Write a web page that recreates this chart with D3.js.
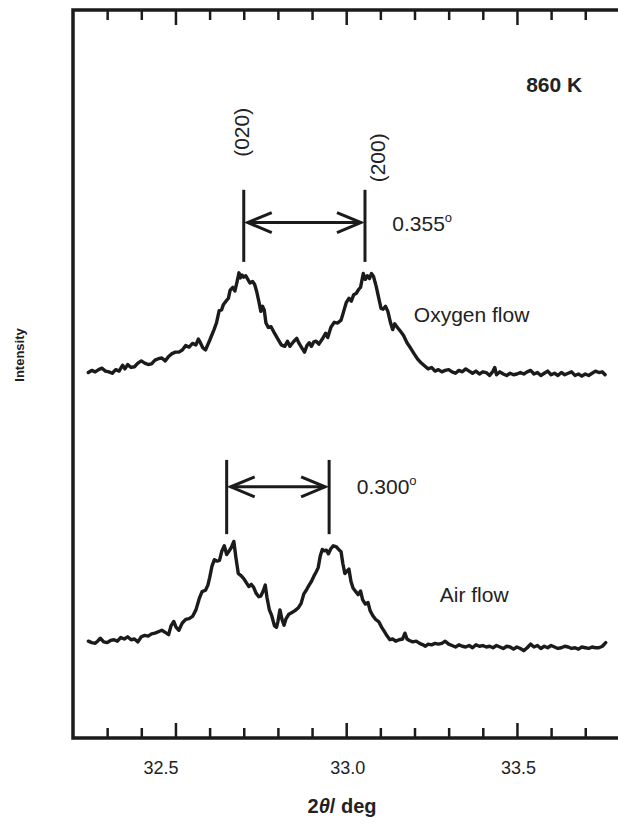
<!DOCTYPE html>
<html>
<head>
<meta charset="utf-8">
<script src="https://cdn.jsdelivr.net/npm/d3@7"></script>
<style>
  body { margin: 0; background: #fff; }
  svg { display: block; font-family: "Liberation Sans", Arial, Helvetica, sans-serif; }
</style>
</head>
<body>
<div id="chart"></div>
<script>
// XRD scans near 33 deg (2theta), intensity in arbitrary units (offset traces)

// x axis ticks
var majorTicks = [32.5, 33.0, 33.5];
var minorTicks = [32.3, 32.4, 32.6, 32.7, 32.8, 32.9, 33.1, 33.2, 33.3, 33.4, 33.6, 33.7];

// [2theta, intensity]
var oxygenFlow = [
  [32.245, 50.2], [32.255, 50.5], [32.265, 50.3], [32.275, 50.6], [32.285, 50.8], [32.295, 50.4],
  [32.305, 50.3], [32.315, 50.1], [32.325, 50.6], [32.335, 50.4], [32.345, 51.2], [32.352, 50.7],
  [32.36, 51.3], [32.37, 50.9], [32.38, 51.0], [32.39, 51.5], [32.40, 51.8], [32.41, 51.5],
  [32.42, 51.3], [32.43, 51.4], [32.44, 51.9], [32.45, 52.1], [32.46, 52.2], [32.47, 51.8],
  [32.48, 52.4], [32.49, 52.8], [32.50, 53.0], [32.51, 53.0], [32.52, 53.3], [32.53, 53.9],
  [32.54, 53.7], [32.55, 54.2], [32.56, 54.0], [32.567, 54.8], [32.573, 54.3], [32.58, 53.6],
  [32.588, 53.3], [32.60, 54.6], [32.613, 56.1], [32.62, 57.0], [32.628, 58.7], [32.635, 58.8],
  [32.64, 59.5], [32.648, 60.0], [32.655, 60.4], [32.66, 61.5], [32.668, 61.9], [32.674, 61.4],
  [32.68, 62.6], [32.686, 63.9], [32.69, 63.2], [32.695, 63.6], [32.70, 63.3], [32.706, 63.5],
  [32.712, 63.0], [32.718, 62.5], [32.726, 62.7], [32.732, 62.3], [32.738, 61.3], [32.744, 60.0],
  [32.75, 58.6], [32.755, 59.3], [32.76, 58.8], [32.765, 57.0], [32.772, 56.4], [32.78, 56.5],
  [32.79, 55.6], [32.80, 54.8], [32.81, 54.0], [32.82, 53.8], [32.828, 54.5], [32.835, 53.8],
  [32.845, 54.4], [32.855, 54.9], [32.862, 54.2], [32.87, 53.6], [32.878, 53.0], [32.885, 53.9],
  [32.892, 54.3], [32.898, 53.8], [32.905, 54.4], [32.912, 54.5], [32.92, 54.1], [32.93, 54.8],
  [32.94, 55.6], [32.946, 55.0], [32.955, 56.4], [32.965, 57.1], [32.975, 57.0], [32.985, 57.4],
  [32.992, 58.5], [33.0, 59.8], [33.008, 60.4], [33.015, 60.0], [33.022, 60.9], [33.03, 61.1],
  [33.036, 61.6], [33.042, 61.9], [33.05, 63.8], [33.056, 63.0], [33.062, 63.5], [33.068, 63.1],
  [33.074, 63.8], [33.08, 63.4], [33.088, 62.0], [33.095, 60.5], [33.102, 59.0], [33.108, 58.9],
  [33.115, 59.3], [33.122, 58.6], [33.13, 57.0], [33.136, 56.1], [33.142, 56.9], [33.15, 56.4],
  [33.16, 55.8], [33.168, 55.3], [33.178, 54.3], [33.188, 53.6], [33.2, 52.7], [33.21, 52.0],
  [33.22, 51.5], [33.23, 51.1], [33.24, 50.7], [33.25, 50.9], [33.26, 50.4], [33.27, 50.6],
  [33.28, 50.3], [33.29, 50.5], [33.30, 50.6], [33.31, 50.3], [33.32, 50.1], [33.33, 50.5],
  [33.34, 50.3], [33.35, 50.7], [33.36, 50.4], [33.37, 50.1], [33.38, 50.4], [33.39, 50.0],
  [33.40, 50.3], [33.41, 50.2], [33.42, 49.8], [33.43, 50.4], [33.435, 50.9], [33.44, 49.9],
  [33.45, 50.3], [33.46, 50.0], [33.47, 49.8], [33.48, 50.1], [33.49, 49.9], [33.50, 50.0],
  [33.51, 50.2], [33.52, 50.0], [33.53, 50.3], [33.54, 50.5], [33.55, 50.0], [33.56, 50.2],
  [33.57, 49.8], [33.58, 50.1], [33.59, 50.4], [33.60, 49.9], [33.61, 50.1], [33.62, 49.8],
  [33.63, 50.2], [33.64, 49.9], [33.65, 50.1], [33.66, 50.3], [33.67, 49.8], [33.68, 50.0],
  [33.69, 49.7], [33.70, 50.0], [33.71, 49.8], [33.72, 50.1], [33.73, 50.4], [33.74, 50.2],
  [33.75, 50.3], [33.758, 49.9]
];

var airFlow = [
  [32.245, 13.3], [32.255, 13.1], [32.265, 13.0], [32.272, 13.3], [32.28, 13.7], [32.29, 13.2],
  [32.30, 13.1], [32.31, 13.4], [32.32, 13.5], [32.33, 13.3], [32.34, 13.8], [32.35, 13.6],
  [32.36, 13.9], [32.37, 13.5], [32.38, 13.6], [32.39, 13.2], [32.40, 13.9], [32.41, 14.1],
  [32.42, 14.0], [32.43, 14.3], [32.44, 14.4], [32.45, 14.6], [32.46, 14.8], [32.47, 14.5],
  [32.48, 14.2], [32.487, 15.4], [32.495, 16.0], [32.502, 15.2], [32.51, 14.8], [32.52, 15.8],
  [32.53, 16.3], [32.54, 16.4], [32.55, 16.7], [32.56, 17.6], [32.57, 19.2], [32.578, 20.1],
  [32.588, 20.3], [32.595, 21.0], [32.60, 22.0], [32.607, 23.6], [32.614, 24.5], [32.622, 24.3],
  [32.629, 24.4], [32.636, 25.7], [32.643, 26.4], [32.65, 25.2], [32.656, 25.6], [32.664, 26.2],
  [32.671, 27.0], [32.677, 24.8], [32.684, 22.6], [32.692, 22.3], [32.70, 21.9], [32.708, 21.3],
  [32.715, 20.8], [32.722, 21.1], [32.729, 20.7], [32.736, 19.9], [32.744, 19.4], [32.75, 19.5],
  [32.757, 20.2], [32.763, 21.0], [32.768, 19.3], [32.775, 17.6], [32.782, 16.8], [32.79, 15.4],
  [32.796, 15.2], [32.80, 16.0], [32.806, 17.6], [32.812, 16.3], [32.818, 15.5], [32.824, 16.4],
  [32.832, 17.0], [32.84, 17.2], [32.85, 17.5], [32.86, 17.9], [32.868, 18.5], [32.876, 19.8],
  [32.883, 20.3], [32.89, 20.9], [32.898, 21.5], [32.906, 22.3], [32.912, 22.8], [32.918, 23.4],
  [32.924, 25.0], [32.93, 25.9], [32.936, 25.7], [32.942, 25.8], [32.948, 25.3], [32.955, 26.0],
  [32.962, 26.4], [32.97, 26.3], [32.978, 25.9], [32.985, 25.6], [32.99, 24.0], [32.996, 22.6],
  [33.002, 22.9], [33.008, 23.2], [33.014, 21.5], [33.02, 20.6], [33.028, 20.1], [33.035, 19.7],
  [33.042, 20.2], [33.048, 19.0], [33.056, 18.4], [33.064, 18.6], [33.07, 17.5], [33.078, 16.8],
  [33.086, 16.3], [33.095, 16.0], [33.104, 15.2], [33.112, 14.6], [33.12, 14.0], [33.128, 13.5],
  [33.136, 13.6], [33.145, 13.3], [33.155, 13.5], [33.165, 13.6], [33.172, 14.4], [33.178, 13.6],
  [33.185, 13.4], [33.195, 13.2], [33.205, 13.3], [33.215, 13.0], [33.225, 12.8], [33.232, 12.6],
  [33.24, 12.9], [33.25, 12.8], [33.26, 13.0], [33.27, 12.9], [33.28, 13.0], [33.29, 13.3],
  [33.30, 12.9], [33.31, 12.7], [33.32, 12.5], [33.33, 12.8], [33.34, 12.6], [33.35, 12.5],
  [33.36, 12.7], [33.37, 12.4], [33.38, 12.8], [33.39, 12.6], [33.40, 12.7], [33.41, 12.5],
  [33.42, 12.6], [33.43, 12.4], [33.44, 12.7], [33.45, 12.5], [33.46, 12.3], [33.47, 12.6],
  [33.48, 12.5], [33.49, 12.2], [33.50, 12.5], [33.51, 12.3], [33.52, 12.0], [33.53, 12.4],
  [33.54, 12.9], [33.55, 12.5], [33.56, 12.7], [33.57, 12.3], [33.58, 12.6], [33.59, 12.4],
  [33.60, 12.7], [33.61, 12.5], [33.62, 12.3], [33.63, 12.4], [33.64, 12.6], [33.65, 12.5],
  [33.66, 12.3], [33.67, 12.4], [33.68, 12.2], [33.69, 12.5], [33.70, 12.4], [33.71, 12.3],
  [33.72, 12.5], [33.73, 12.4], [33.74, 12.4], [33.75, 12.6], [33.76, 13.1]
];

// peak positions (020), (200)
var oxygenPeaks = [32.70, 33.055];
var airPeaks = [32.65, 32.95];

// SVG area
var svgWidth = 618;
var svgHeight = 825;

var margin = { top: 10, left: 73, bottom: 87 };
var plotBottom = svgHeight - margin.bottom;

var svg = d3.select('#chart')
  .append('svg')
  .attr('width', svgWidth)
  .attr('height', svgHeight);

var x = d3.scaleLinear().domain([32.2, 33.8]).range([margin.left, 619.4]);
var y = d3.scaleLinear().domain([0, 100]).range([plotBottom, margin.top]);

var ink = '#1b1b1b';

// frame (right edge runs off the page)
svg.append('rect')
  .attr('x', margin.left)
  .attr('y', margin.top)
  .attr('width', 570)
  .attr('height', plotBottom - margin.top)
  .attr('fill', 'none')
  .attr('stroke', ink)
  .attr('stroke-width', 3.5);

// ticks, bottom and top, pointing in
function tickAxis(axisFn, ticks, size, yPos) {
  var g = svg.append('g')
    .attr('transform', 'translate(0,' + yPos + ')')
    .call(axisFn(x).tickValues(ticks).tickSize(-size).tickFormat(''));
  g.select('.domain').remove();
  g.selectAll('line').attr('stroke', ink).attr('stroke-width', 2.5);
  return g;
}
tickAxis(d3.axisBottom, minorTicks, 10, plotBottom);
tickAxis(d3.axisTop, minorTicks, 10, margin.top);
tickAxis(d3.axisTop, majorTicks, 15, margin.top);

var xAxis = svg.append('g')
  .attr('transform', 'translate(0,' + plotBottom + ')')
  .call(d3.axisBottom(x).tickValues(majorTicks).tickSize(-15).tickPadding(23).tickFormat(d3.format('.1f')));
xAxis.select('.domain').remove();
xAxis.selectAll('line').attr('stroke', ink).attr('stroke-width', 2.5);
xAxis.selectAll('text')
  .attr('fill', '#222')
  .style('font-size', '18px')
  .style('font-family', '"Liberation Sans", Arial, sans-serif')
  .attr('dx', function (d) { return d === 32.5 ? -15 : 1; });

// traces
var line = d3.line()
  .x(function (d) { return x(d[0]); })
  .y(function (d) { return y(d[1]); });

[oxygenFlow, airFlow].forEach(function (series) {
  svg.append('path')
    .datum(series)
    .attr('d', line)
    .attr('fill', 'none')
    .attr('stroke', ink)
    .attr('stroke-width', 3.4)
    .attr('stroke-linejoin', 'round')
    .attr('stroke-linecap', 'round');
});

// peak markers with double arrow
function peakMarker(peaks, yLow, yHigh, yArrow) {
  var g = svg.append('g').attr('stroke', ink).attr('fill', 'none').attr('stroke-width', 3);
  peaks.forEach(function (p) {
    g.append('line')
      .attr('x1', x(p)).attr('x2', x(p))
      .attr('y1', y(yLow)).attr('y2', y(yHigh));
  });
  var xa = x(peaks[0]) + 4;
  var xb = x(peaks[1]) - 4;
  var ya = y(yArrow);
  g.append('line').attr('x1', xa).attr('x2', xb).attr('y1', ya).attr('y2', ya);
  g.append('polyline')
    .attr('points', [[xa + 24, ya - 10], [xa, ya], [xa + 24, ya + 10]].join(' '))
    .attr('stroke-linejoin', 'miter');
  g.append('polyline')
    .attr('points', [[xb - 24, ya - 10], [xb, ya], [xb - 24, ya + 10]].join(' '))
    .attr('stroke-linejoin', 'miter');
}
peakMarker(oxygenPeaks, 65.4, 75.3, 70.8);
peakMarker(airPeaks, 28.0, 38.2, 34.5);

// text labels
function label(txt, tx, ty, opts) {
  opts = opts || {};
  var t = svg.append('text')
    .attr('x', x(tx))
    .attr('y', y(ty))
    .attr('fill', '#222')
    .style('font-size', (opts.size || 21) + 'px')
    .style('font-weight', opts.bold ? 'bold' : 'normal')
    .text(txt);
  if (opts.deg) {
    t.append('tspan').attr('dy', -9).style('font-size', '13px').text('o');
  }
  if (opts.rotate) {
    t.attr('text-anchor', 'middle')
      .attr('dominant-baseline', 'central')
      .attr('transform', 'rotate(-90,' + x(tx) + ',' + y(ty) + ')');
  }
  return t;
}

label('860 K', 33.527, 88.7, { bold: true });
label('(020)', 32.692, 83.2, { rotate: true });
label('(200)', 33.091, 79.7, { rotate: true });
label('0.355', 33.135, 69.6, { deg: true });
label('Oxygen flow', 33.198, 57.1);
label('0.300', 33.031, 33.5, { deg: true });
label('Air flow', 33.274, 18.7);

// axis titles
var xTitle = svg.append('text')
  .attr('x', 342)
  .attr('y', 813)
  .attr('text-anchor', 'middle')
  .attr('fill', '#222')
  .style('font-size', '20px')
  .style('font-weight', 'bold');
xTitle.append('tspan').text('2');
xTitle.append('tspan').style('font-style', 'italic').text('\u03B8');
xTitle.append('tspan').text('/ deg');

svg.append('text')
  .attr('transform', 'translate(19,355) rotate(-90)')
  .attr('text-anchor', 'middle')
  .attr('dominant-baseline', 'central')
  .attr('fill', '#222')
  .style('font-size', '13px')
  .style('font-weight', 'bold')
  .text('Intensity');
</script>
</body>
</html>
